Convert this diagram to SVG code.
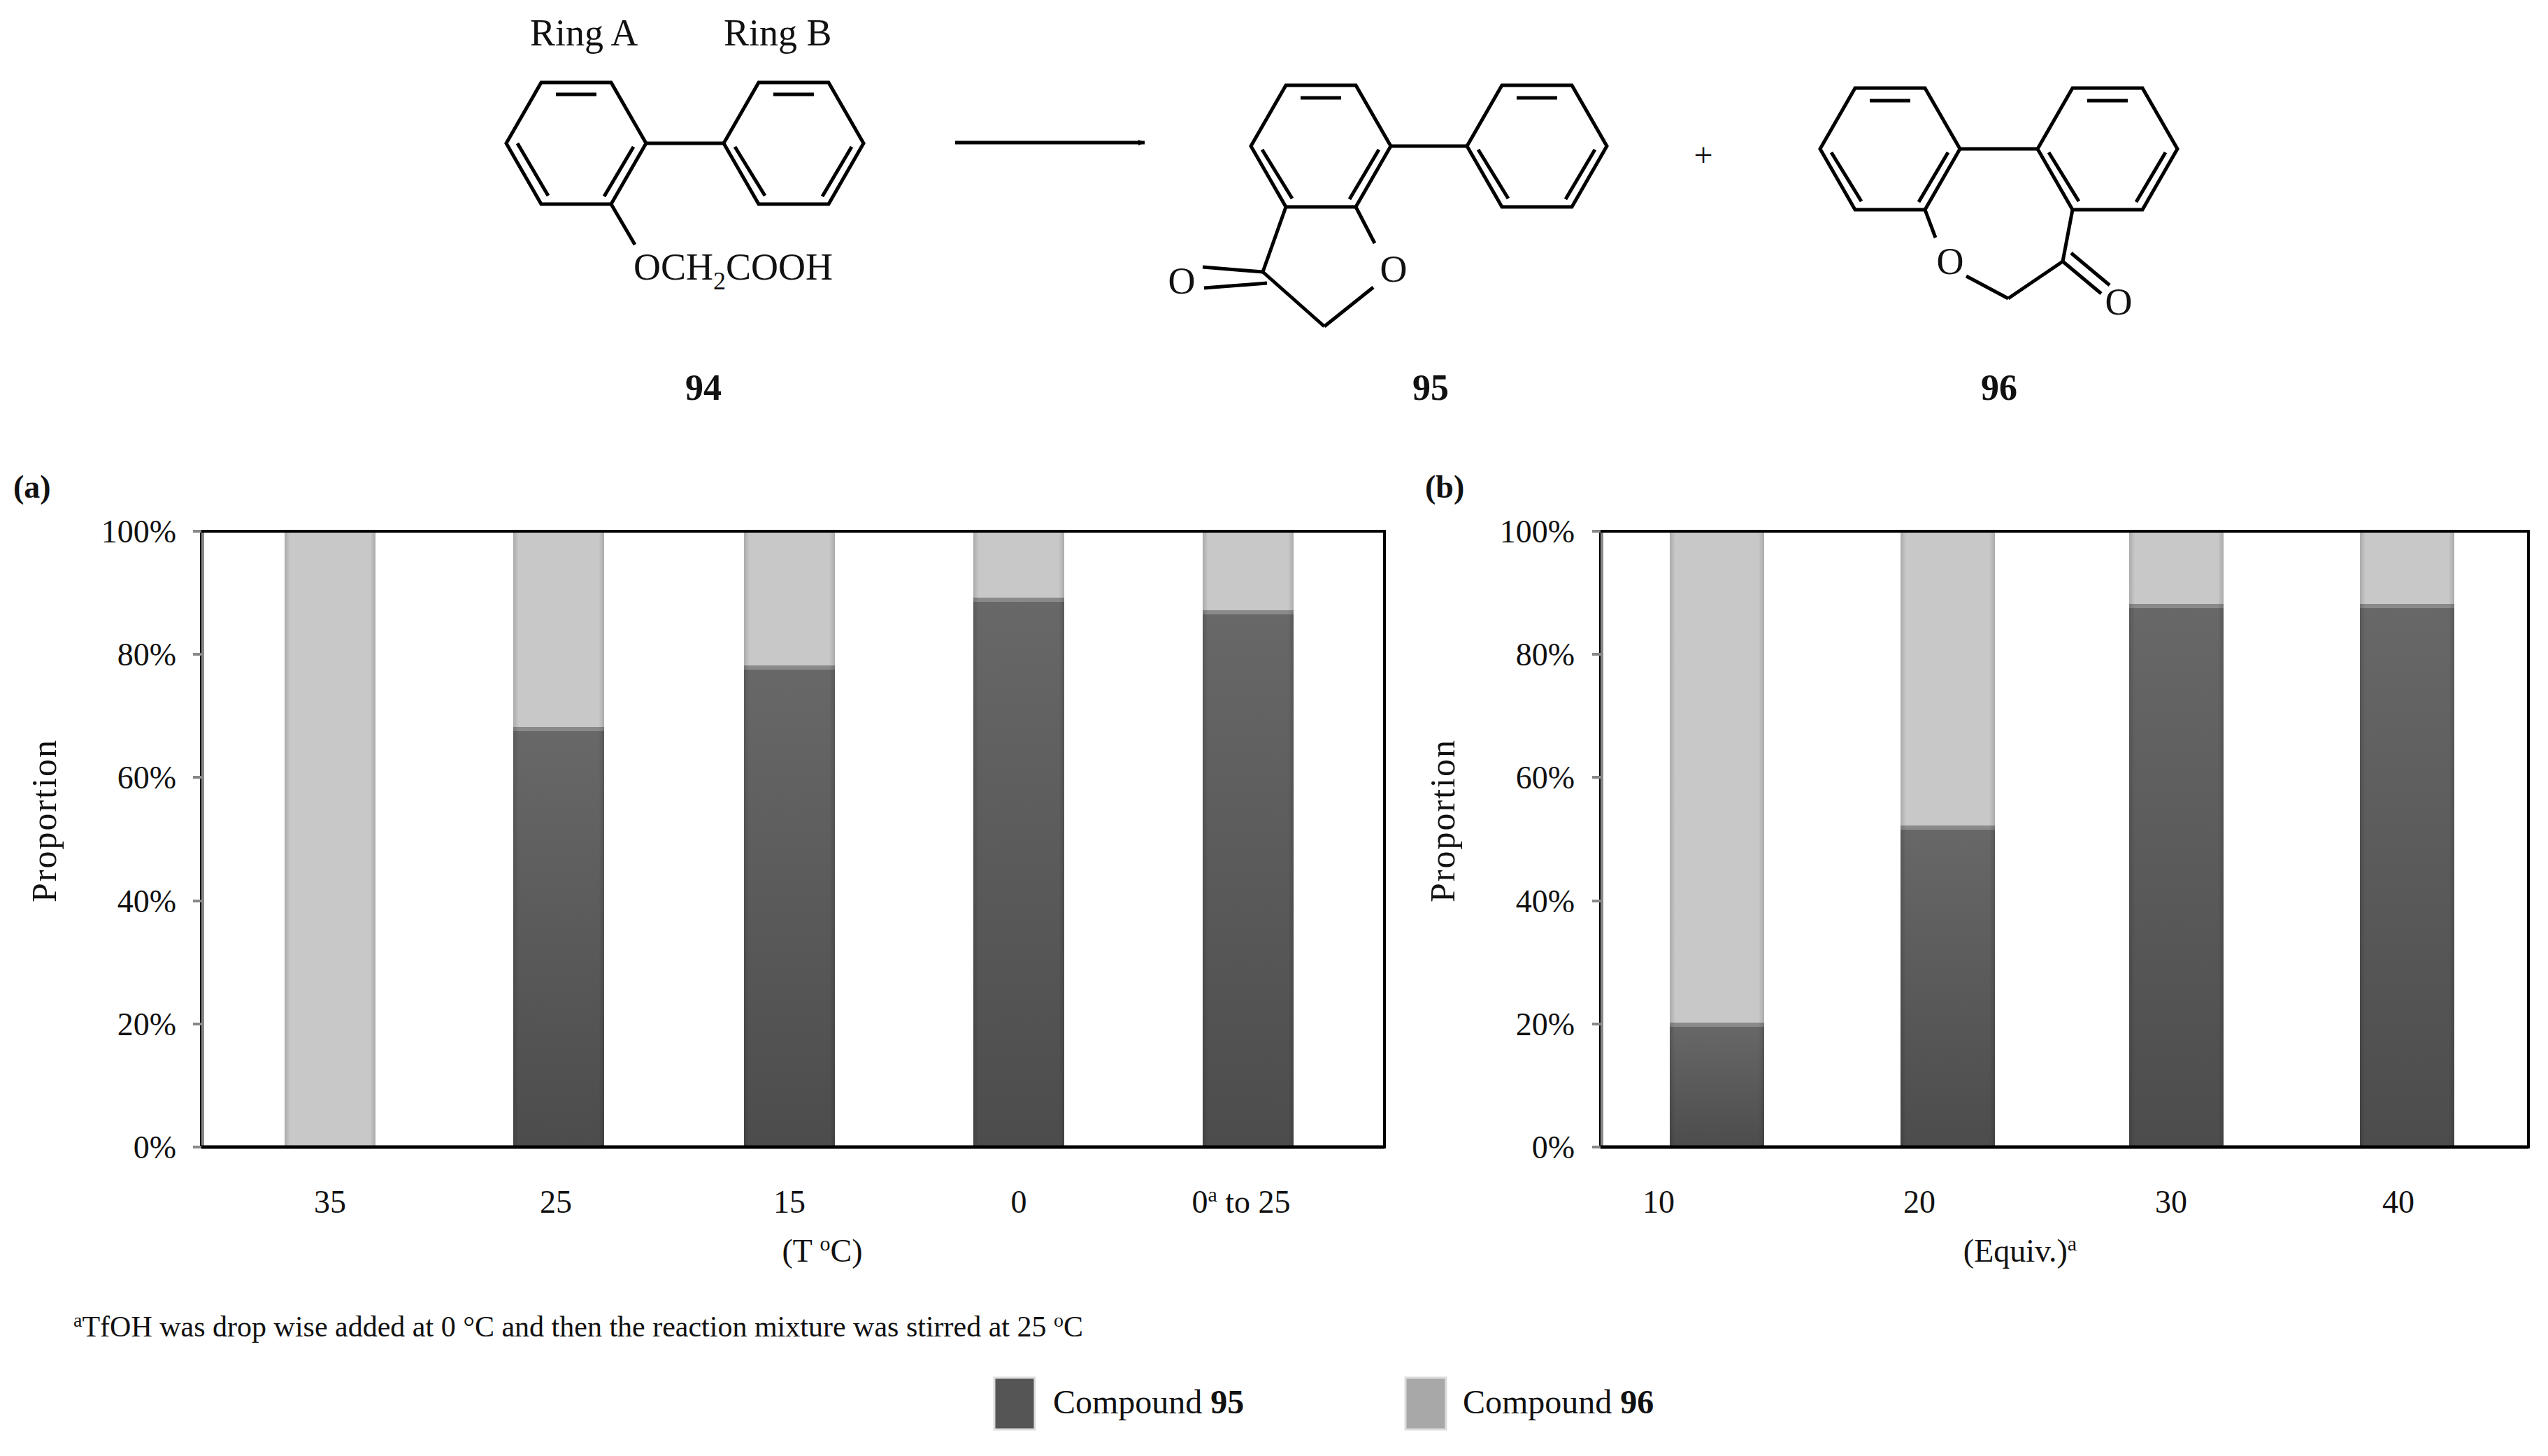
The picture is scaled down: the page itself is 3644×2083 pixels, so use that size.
<svg xmlns="http://www.w3.org/2000/svg" width="3644" height="2083" viewBox="0 0 3644 2083">
<style>
.b{stroke:#000;stroke-width:5;fill:none}
.bt{stroke:#000;stroke-width:10;fill:none}
text{font-family:"Liberation Serif",serif;fill:#111}
.ch{font-size:54px}
.num{font-size:52px;font-weight:bold;text-anchor:middle}
.tk{font-size:46px;text-anchor:end}
.xl{font-size:46px;text-anchor:middle}
.box{fill:#fff;stroke:#000;stroke-width:4}
.ax{stroke:#888;stroke-width:4}
</style>
<defs>
<linearGradient id="dk" x1="0" y1="0" x2="0" y2="1"><stop offset="0" stop-color="#686868"/><stop offset="1" stop-color="#4c4c4c"/></linearGradient>
<linearGradient id="sh" x1="0" y1="0" x2="1" y2="0"><stop offset="0" stop-color="#000" stop-opacity="0.15"/><stop offset="0.06" stop-color="#000" stop-opacity="0"/><stop offset="0.94" stop-color="#000" stop-opacity="0"/><stop offset="1" stop-color="#000" stop-opacity="0.15"/></linearGradient>
<marker id="ah" markerWidth="10" markerHeight="8" refX="9" refY="4" orient="auto" markerUnits="userSpaceOnUse" viewBox="0 0 10 8"><path d="M0,0 L10,4 L0,8 Z" fill="#000"/></marker>
</defs>
<rect width="3644" height="2083" fill="#fff"/>

<g id="cmpd94">
<text class="ch" x="758" y="65">Ring A</text>
<text class="ch" x="1035" y="65">Ring B</text>
<polygon class="b" points="724,205 774,118 874,118 924,205 874,292 774,292"/>
<line class="b" x1="740" y1="205" x2="784" y2="280"/><line class="b" x1="795" y1="135" x2="853" y2="135"/><line class="b" x1="906" y1="210" x2="864" y2="281"/>
<polygon class="b" points="1035,205 1085,118 1185,118 1235,205 1185,292 1085,292"/>
<line class="b" x1="1051" y1="210" x2="1094" y2="280"/><line class="b" x1="1106" y1="135" x2="1164" y2="135"/><line class="b" x1="1218" y1="210" x2="1176" y2="281"/>
<line class="b" x1="924" y1="205" x2="1035" y2="205"/>
<line class="b" x1="874" y1="292" x2="908" y2="350"/>
<text class="ch" x="906" y="400">OCH<tspan font-size="36" dy="14">2</tspan><tspan dy="-14">COOH</tspan></text>
<text class="num" x="1006" y="572">94</text>
</g>

<g id="arrow"><line x1="1366" y1="204" x2="1637" y2="204" stroke="#000" stroke-width="5" marker-end="url(#ah)"/></g>

<g id="cmpd95">
<polygon class="b" points="1789,209 1839,122 1939,122 1989,209 1939,296 1839,296"/>
<line class="b" x1="1805" y1="214" x2="1848" y2="284"/><line class="b" x1="1860" y1="140" x2="1918" y2="140"/><line class="b" x1="1972" y1="214" x2="1930" y2="285"/>
<polygon class="b" points="2098,209 2148,122 2248,122 2298,209 2248,296 2148,296"/>
<line class="b" x1="2114" y1="214" x2="2157" y2="284"/><line class="b" x1="2169" y1="140" x2="2227" y2="140"/><line class="b" x1="2281" y1="214" x2="2239" y2="285"/>
<line class="b" x1="1989" y1="209" x2="2098" y2="209"/>
<line class="b" x1="1839" y1="296" x2="1806" y2="389"/>
<line class="b" x1="1939" y1="296" x2="1966" y2="348"/>
<text class="ch" x="1993" y="403" text-anchor="middle">O</text>
<line class="b" x1="1964" y1="411" x2="1894" y2="467"/>
<line class="b" x1="1894" y1="467" x2="1806" y2="389"/>
<line class="b" x1="1806" y1="389" x2="1720" y2="382"/><line class="b" x1="1812" y1="405" x2="1722" y2="412"/>
<text class="ch" x="1690" y="420" text-anchor="middle">O</text>
<text class="num" x="2046" y="572">95</text>
</g>

<g id="plus"><text x="2436" y="238" font-size="48" text-anchor="middle">+</text></g>

<g id="cmpd96">
<polygon class="b" points="2603,213 2653,126 2753,126 2803,213 2753,300 2653,300"/>
<line class="b" x1="2619" y1="218" x2="2662" y2="288"/><line class="b" x1="2674" y1="144" x2="2732" y2="144"/><line class="b" x1="2786" y1="218" x2="2744" y2="289"/>
<polygon class="b" points="2914,213 2964,126 3064,126 3114,213 3064,300 2964,300"/>
<line class="b" x1="2930" y1="218" x2="2973" y2="288"/><line class="b" x1="2985" y1="144" x2="3043" y2="144"/><line class="b" x1="3097" y1="218" x2="3055" y2="289"/>
<line class="b" x1="2803" y1="213" x2="2914" y2="213"/>
<line class="b" x1="2753" y1="300" x2="2768" y2="340"/>
<text class="ch" x="2789" y="392" text-anchor="middle">O</text>
<line class="b" x1="2812" y1="395" x2="2872" y2="427"/>
<line class="b" x1="2872" y1="427" x2="2950" y2="374"/>
<line class="b" x1="2950" y1="374" x2="2964" y2="300"/>
<line class="b" x1="2950" y1="374" x2="3005" y2="420"/><line class="b" x1="2962" y1="362" x2="3017" y2="408"/>
<text class="ch" x="3030" y="450" text-anchor="middle">O</text>
<text class="num" x="2859" y="572">96</text>
</g>

<g id="chartA">
<text x="19" y="712" font-size="46" font-weight="bold">(a)</text>
<rect class="box" x="288" y="760" width="1692" height="881"/>
<line class="ax" x1="290" y1="760" x2="290" y2="1641"/>
<g class="ax"><line x1="276" y1="760" x2="290" y2="760"/><line x1="276" y1="936" x2="290" y2="936"/><line x1="276" y1="1112" x2="290" y2="1112"/><line x1="276" y1="1289" x2="290" y2="1289"/><line x1="276" y1="1465" x2="290" y2="1465"/><line x1="276" y1="1641" x2="290" y2="1641"/></g>
<text class="tk" x="252" y="776">100%</text><text class="tk" x="252" y="952">80%</text><text class="tk" x="252" y="1128">60%</text><text class="tk" x="252" y="1305">40%</text><text class="tk" x="252" y="1481">20%</text><text class="tk" x="252" y="1657">0%</text>
<text x="80" y="1174" font-size="50" text-anchor="middle" transform="rotate(-90 80 1174)" letter-spacing="2">Proportion</text>
<rect x="407" y="760" width="130" height="881" fill="#c8c8c8"/>
<rect x="734" y="760" width="130" height="282" fill="#c8c8c8"/><rect x="734" y="1042" width="130" height="599" fill="url(#dk)"/>
<rect x="1064" y="760" width="130" height="194" fill="#c8c8c8"/><rect x="1064" y="954" width="130" height="687" fill="url(#dk)"/>
<rect x="1392" y="760" width="130" height="97" fill="#c8c8c8"/><rect x="1392" y="857" width="130" height="784" fill="url(#dk)"/>
<rect x="1720" y="760" width="130" height="115" fill="#c8c8c8"/><rect x="1720" y="875" width="130" height="766" fill="url(#dk)"/>
<g fill="#8a8a8a"><rect x="734" y="1040" width="130" height="6"/><rect x="1064" y="952" width="130" height="6"/><rect x="1392" y="855" width="130" height="6"/><rect x="1720" y="873" width="130" height="6"/></g>
<g fill="url(#sh)"><rect x="407" y="760" width="130" height="881"/><rect x="734" y="760" width="130" height="881"/><rect x="1064" y="760" width="130" height="881"/><rect x="1392" y="760" width="130" height="881"/><rect x="1720" y="760" width="130" height="881"/></g>
<line x1="288" y1="760" x2="1980" y2="760" stroke="#000" stroke-width="4"/><line x1="288" y1="1641" x2="1980" y2="1641" stroke="#000" stroke-width="5"/>
<text class="xl" x="472" y="1735">35</text><text class="xl" x="795" y="1735">25</text><text class="xl" x="1129" y="1735">15</text><text class="xl" x="1457" y="1735">0</text>
<text class="xl" x="1775" y="1735">0<tspan font-size="30" dy="-16">a</tspan><tspan dy="16"> to 25</tspan></text>
<text class="xl" x="1176" y="1805">(T <tspan font-size="30" dy="-16">o</tspan><tspan dy="16">C)</tspan></text>
</g>

<g id="chartB">
<text x="2038" y="712" font-size="46" font-weight="bold">(b)</text>
<rect class="box" x="2289" y="760" width="1327" height="881"/>
<line class="ax" x1="2291" y1="760" x2="2291" y2="1641"/>
<g class="ax"><line x1="2277" y1="760" x2="2291" y2="760"/><line x1="2277" y1="936" x2="2291" y2="936"/><line x1="2277" y1="1112" x2="2291" y2="1112"/><line x1="2277" y1="1289" x2="2291" y2="1289"/><line x1="2277" y1="1465" x2="2291" y2="1465"/><line x1="2277" y1="1641" x2="2291" y2="1641"/></g>
<text class="tk" x="2252" y="776">100%</text><text class="tk" x="2252" y="952">80%</text><text class="tk" x="2252" y="1128">60%</text><text class="tk" x="2252" y="1305">40%</text><text class="tk" x="2252" y="1481">20%</text><text class="tk" x="2252" y="1657">0%</text>
<text x="2080" y="1174" font-size="50" text-anchor="middle" transform="rotate(-90 2080 1174)" letter-spacing="2">Proportion</text>
<rect x="2388" y="760" width="135" height="705" fill="#c8c8c8"/><rect x="2388" y="1465" width="135" height="176" fill="url(#dk)"/>
<rect x="2718" y="760" width="135" height="423" fill="#c8c8c8"/><rect x="2718" y="1183" width="135" height="458" fill="url(#dk)"/>
<rect x="3045" y="760" width="135" height="106" fill="#c8c8c8"/><rect x="3045" y="866" width="135" height="775" fill="url(#dk)"/>
<rect x="3375" y="760" width="135" height="106" fill="#c8c8c8"/><rect x="3375" y="866" width="135" height="775" fill="url(#dk)"/>
<g fill="#8a8a8a"><rect x="2388" y="1463" width="135" height="6"/><rect x="2718" y="1181" width="135" height="6"/><rect x="3045" y="864" width="135" height="6"/><rect x="3375" y="864" width="135" height="6"/></g>
<g fill="url(#sh)"><rect x="2388" y="760" width="135" height="881"/><rect x="2718" y="760" width="135" height="881"/><rect x="3045" y="760" width="135" height="881"/><rect x="3375" y="760" width="135" height="881"/></g>
<line x1="2289" y1="760" x2="3616" y2="760" stroke="#000" stroke-width="4"/><line x1="2289" y1="1641" x2="3616" y2="1641" stroke="#000" stroke-width="5"/>
<text class="xl" x="2372" y="1735">10</text><text class="xl" x="2745" y="1735">20</text><text class="xl" x="3105" y="1735">30</text><text class="xl" x="3430" y="1735">40</text>
<text class="xl" x="2889" y="1805">(Equiv.)<tspan font-size="30" dy="-16">a</tspan></text>
</g>

<g id="footnote"><text x="105" y="1912" font-size="42"><tspan font-size="28" dy="-14">a</tspan><tspan dy="14">TfOH was drop wise added at 0 °C and then the reaction mixture was stirred at 25 </tspan><tspan font-size="28" dy="-14">o</tspan><tspan dy="14">C</tspan></text></g>

<g id="legend">
<rect x="1422" y="1971" width="58" height="74" fill="#555" stroke="#ddd" stroke-width="3"/>
<text x="1506" y="2022" font-size="48">Compound <tspan font-weight="bold">95</tspan></text>
<rect x="2010" y="1971" width="58" height="74" fill="#a8a8a8" stroke="#ddd" stroke-width="3"/>
<text x="2092" y="2022" font-size="48">Compound <tspan font-weight="bold">96</tspan></text>
</g>
</svg>
